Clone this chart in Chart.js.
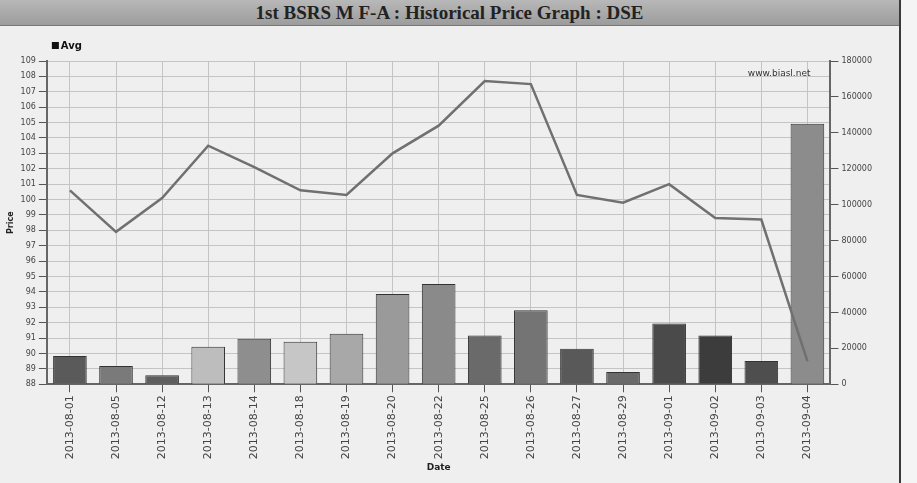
<!DOCTYPE html>
<html>
<head>
<meta charset="utf-8">
<script src="https://cdn.jsdelivr.net/npm/chart.js@4.4.0/dist/chart.umd.min.js"></script>
<style>
  html, body { margin: 0; padding: 0; background: #f4f4f4; }
  #wrap { position: relative; width: 899px; height: 483px; border-right: 2px solid #3a3a3a; background: #efefef; }
  #title {
    height: 25px; line-height: 25px; text-align: center;
    font-family: "Liberation Serif", serif; font-weight: bold; font-size: 19px; color: #222;
    background: linear-gradient(#b8b8b8, #9c9c9c); border-bottom: 1px solid #777;
  }
  #box { position: absolute; left: 0; top: 26px; width: 899px; height: 457px; }
</style>
</head>
<body>
<div id="wrap">
  <div id="title">1st BSRS M F-A : Historical Price Graph : DSE</div>
  <div id="box"><canvas id="priceChart"></canvas></div>
</div>
<script>
const dates = ['2013-08-01', '2013-08-05', '2013-08-12', '2013-08-13', '2013-08-14', '2013-08-18',
  '2013-08-19', '2013-08-20', '2013-08-22', '2013-08-25', '2013-08-26', '2013-08-27',
  '2013-08-29', '2013-09-01', '2013-09-02', '2013-09-03', '2013-09-04'];
const avgPrice = [100.6, 97.9, 100.1, 103.5, 102.1, 100.6, 100.3, 103.0, 104.8, 107.7, 107.5,
  100.3, 99.8, 101.0, 98.8, 98.7, 89.5];
const volume = [15800, 10200, 5000, 20900, 25400, 23700, 28200, 50200, 55900, 27100, 41200,
  19800, 6800, 33900, 27100, 13000, 145000];
const barColors = ['#5a5a5a', '#7a7a7a', '#5e5e5e', '#bdbdbd', '#8e8e8e', '#c6c6c6', '#a8a8a8',
  '#9a9a9a', '#8a8a8a', '#6a6a6a', '#747474', '#595959', '#6a6a6a', '#4a4a4a', '#3c3c3c',
  '#4e4e4e', '#8c8c8c'];

const tickFont = { family: 'DejaVu Sans', size: 8 };

// legend square + watermark, drawn by hand so they sit where the original has them
const extras = {
  id: 'extras',
  afterDraw(chart) {
    const { ctx, chartArea } = chart;
    ctx.save();
    ctx.fillStyle = '#111';
    ctx.fillRect(chartArea.left + 5, chartArea.top - 19, 7, 7);
    ctx.font = 'bold 10px DejaVu Sans';
    ctx.textBaseline = 'middle';
    ctx.fillText('Avg', chartArea.left + 14, chartArea.top - 15);
    ctx.font = '9px DejaVu Sans';
    ctx.fillStyle = '#333';
    ctx.textAlign = 'right';
    ctx.fillText('www.biasl.net', chartArea.right - 20, chartArea.top + 13);
    ctx.restore();
  }
};

new Chart(document.getElementById('priceChart'), {
  data: {
    labels: dates,
    datasets: [{
      type: 'line',
      label: 'Avg',
      data: avgPrice,
      yAxisID: 'y',
      borderColor: '#707070',
      borderWidth: 2.5,
      pointRadius: 0,
      tension: 0,
      order: 0
    }, {
      type: 'bar',
      label: 'Volume',
      data: volume,
      yAxisID: 'y1',
      backgroundColor: barColors,
      borderColor: '#333',
      borderWidth: 1,
      barPercentage: 0.73,
      categoryPercentage: 1,
      order: 1
    }]
  },
  options: {
    responsive: true,
    maintainAspectRatio: false,
    animation: false,
    layout: { padding: { left: 4, right: 24, top: 35, bottom: 10 } },
    plugins: {
      legend: { display: false },
      tooltip: { enabled: false }
    },
    scales: {
      x: {
        grid: { offset: false, color: '#c4c4c4', tickColor: '#555' },
        border: { color: '#666', width: 2 },
        ticks: { font: { family: 'DejaVu Sans', size: 11 }, color: '#444', maxRotation: 90, minRotation: 90 },
        title: { display: true, text: 'Date', font: { family: 'DejaVu Sans', size: 9, weight: 'bold' }, color: '#222', padding: 0 }
      },
      y: {
        position: 'left',
        min: 88, max: 109,
        grid: { color: '#c4c4c4', tickColor: '#555' },
        border: { color: '#666', width: 2 },
        ticks: { stepSize: 1, font: tickFont, color: '#444', autoSkip: false },
        title: { display: true, text: 'Price', font: { family: 'DejaVu Sans', size: 8, weight: 'bold' }, color: '#222', padding: 2 }
      },
      y1: {
        position: 'right',
        min: 0, max: 180000,
        grid: { drawOnChartArea: false, tickColor: '#555' },
        border: { color: '#666', width: 2 },
        ticks: { stepSize: 20000, font: tickFont, color: '#444', callback: v => String(v) }
      }
    }
  },
  plugins: [extras]
});
</script>
</body>
</html>
